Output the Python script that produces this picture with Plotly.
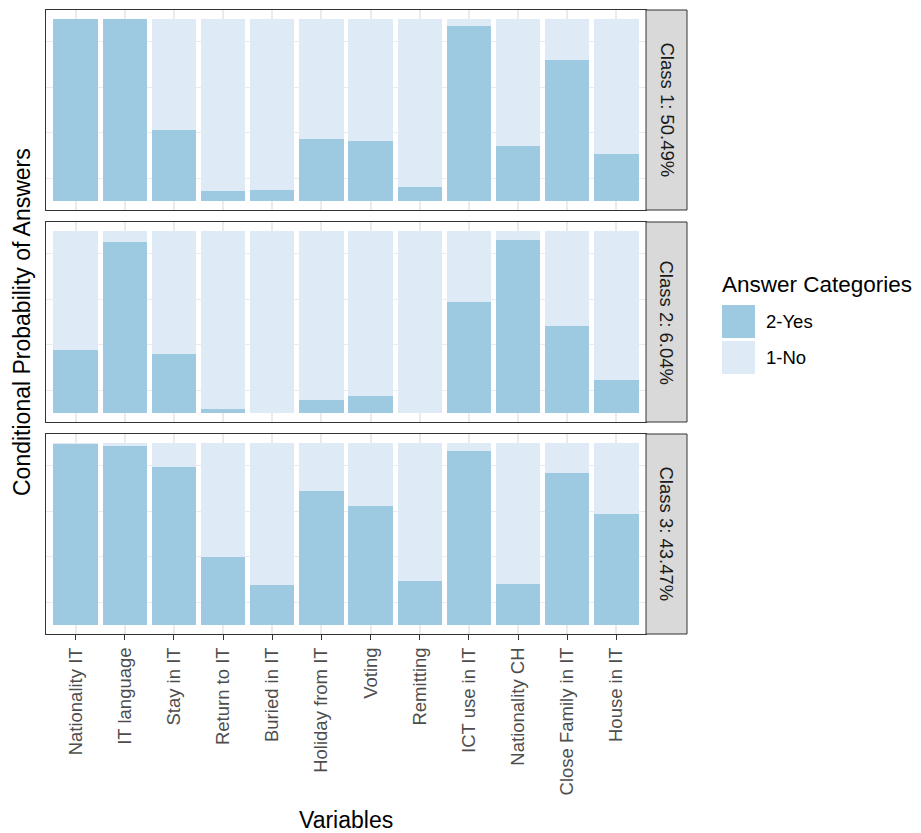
import plotly.graph_objects as go

# Variables (x categories)
variables = ["Nationality IT", "IT language", "Stay in IT", "Return to IT", "Buried in IT",
             "Holiday from IT", "Voting", "Remitting", "ICT use in IT", "Nationality CH",
             "Close Family in IT", "House in IT"]

# Conditional probability of answering "2-Yes" per latent class
yes_class1 = [1.0, 1.0, 0.39, 0.057, 0.059, 0.339, 0.33, 0.075, 0.96, 0.304, 0.775, 0.26]
yes_class2 = [0.346, 0.94, 0.324, 0.024, 0.0, 0.069, 0.095, 0.0, 0.609, 0.949, 0.479, 0.181]
yes_class3 = [0.998, 0.985, 0.87, 0.373, 0.218, 0.739, 0.654, 0.243, 0.958, 0.225, 0.835, 0.61]

class_labels = ["Class 1: 50.49%", "Class 2: 6.04%", "Class 3: 43.47%"]
answer_labels = ["2-Yes", "1-No"]

YES_COLOR = "#9ecae1"
NO_COLOR = "#deebf7"
FONT = "Liberation Sans, Arial, sans-serif"

W, H = 921, 833
ML, MR, MT, MB = 46, 234, 10, 199
PW = W - ML - MR
PH = H - MT - MB


def xp(px):
    return (px - ML) / PW


def yp(py):
    return (H - MB - py) / PH


panel_tops = [10, 222, 434]
panel_h = 200
panel_right = 646
strip_right = 687

fig = go.Figure()
series = [yes_class1, yes_class2, yes_class3]

for i, yes in enumerate(series):
    n = i + 1
    xa = "x" if n == 1 else f"x{n}"
    ya = "y" if n == 1 else f"y{n}"
    no = [1 - v for v in yes]
    fig.add_trace(go.Bar(x=variables, y=yes, name=answer_labels[0], marker_color=YES_COLOR,
                         marker_line_width=0, width=0.9, xaxis=xa, yaxis=ya, showlegend=False))
    fig.add_trace(go.Bar(x=variables, y=no, name=answer_labels[1], marker_color=NO_COLOR,
                         marker_line_width=0, width=0.9, xaxis=xa, yaxis=ya, showlegend=False))

    top, bot = panel_tops[i], panel_tops[i] + panel_h
    last = n == 3
    fig.layout[f"xaxis{'' if n == 1 else n}"] = dict(
        domain=[0, xp(panel_right)], anchor=ya, range=[-0.6, 11.6],
        showgrid=True, gridcolor="#ebebeb", gridwidth=1.5,
        showline=True, mirror=True, linecolor="#333333", linewidth=1,
        zeroline=False, showticklabels=last, ticks="outside" if last else "",
        ticklen=5, tickcolor="#333333", tickwidth=1.2, tickangle=-90,
        tickfont=dict(family=FONT, size=18.5, color="#4d4d4d"),
        matches="x" if n > 1 else None, fixedrange=True,
    )
    fig.layout[f"yaxis{'' if n == 1 else n}"] = dict(
        domain=[yp(bot), yp(top)], anchor=xa, range=[-0.05, 1.05],
        tickvals=[0.125, 0.375, 0.625, 0.875], showticklabels=False, ticks="",
        showgrid=True, gridcolor="#ebebeb", gridwidth=0.8,
        showline=True, mirror=True, linecolor="#333333", linewidth=1,
        zeroline=False, fixedrange=True,
    )

    # facet strip on the right
    fig.add_shape(type="rect", xref="paper", yref="paper",
                  x0=xp(panel_right), x1=xp(strip_right), y0=yp(bot), y1=yp(top),
                  fillcolor="#d9d9d9", line=dict(color="#333333", width=1))
    fig.add_annotation(xref="paper", yref="paper", x=xp((panel_right + strip_right) / 2),
                       y=yp((top + bot) / 2), xanchor="center", yanchor="middle",
                       text=class_labels[i], textangle=90,
                       showarrow=False, font=dict(family=FONT, size=18.5, color="#1a1a1a"))

# axis titles
fig.add_annotation(xref="paper", yref="paper", x=xp(346), y=yp(820),
                   xanchor="center", yanchor="middle", text="Variables",
                   showarrow=False, font=dict(family=FONT, size=23, color="black"))
fig.add_annotation(xref="paper", yref="paper", x=xp(22), y=yp(322),
                   xanchor="center", yanchor="middle",
                   text="Conditional Probability of Answers", textangle=-90,
                   showarrow=False, font=dict(family=FONT, size=23, color="black"))

# legend
fig.add_annotation(xref="paper", yref="paper", x=xp(720), y=yp(284), xanchor="left",
                   yanchor="middle", text="Answer Categories", showarrow=False,
                   font=dict(family=FONT, size=22.5, color="black"))
key_rows = [(305, 338, YES_COLOR, answer_labels[0]), (341, 374, NO_COLOR, answer_labels[1])]
for y0, y1, col, lab in key_rows:
    fig.add_shape(type="rect", xref="paper", yref="paper", x0=xp(722), x1=xp(755),
                  y0=yp(y1), y1=yp(y0), fillcolor=col, line=dict(width=0))
    fig.add_annotation(xref="paper", yref="paper", x=xp(764), y=yp((y0 + y1) / 2),
                       xanchor="left", yanchor="middle", text=lab, showarrow=False,
                       font=dict(family=FONT, size=18.5, color="black"))

fig.update_layout(
    width=W, height=H, barmode="stack", bargap=0.1,
    margin=dict(l=ML, r=MR, t=MT, b=MB),
    plot_bgcolor="white", paper_bgcolor="white",
    font=dict(family=FONT), showlegend=False,
)

fig.write_html("out.html", config={"displayModeBar": False})
